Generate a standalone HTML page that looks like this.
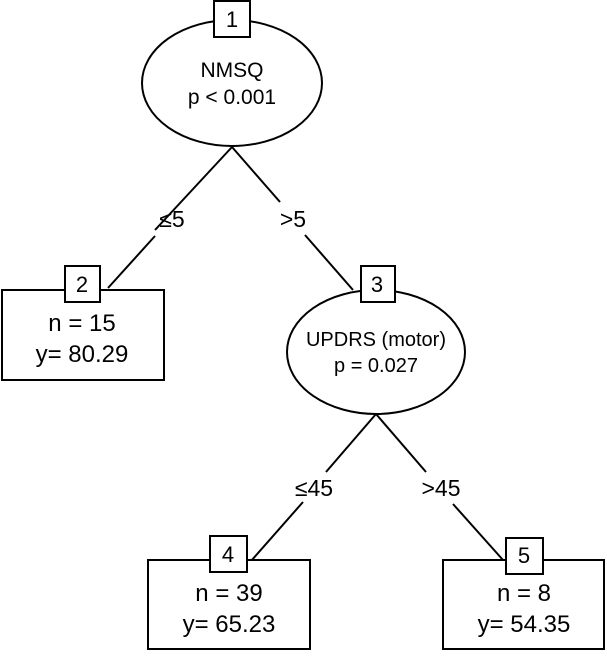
<!DOCTYPE html>
<html><head><style>body{margin:0;background:#fff}</style></head><body>
<svg width="607" height="652" viewBox="0 0 607 652" xmlns="http://www.w3.org/2000/svg" font-family="Liberation Sans, sans-serif" fill="none" stroke="#000" stroke-width="2">
<g>
<line x1="232" y1="147" x2="155" y2="230"/>
<line x1="155" y1="236" x2="108" y2="288"/>
<line x1="232" y1="147" x2="280" y2="202"/>
<line x1="305" y1="235" x2="353" y2="290"/>
<line x1="376" y1="414" x2="326" y2="472"/>
<line x1="303" y1="502" x2="251" y2="561"/>
<line x1="376" y1="414" x2="426" y2="472"/>
<line x1="453" y1="504" x2="503" y2="560"/>
<ellipse cx="232" cy="83" rx="90" ry="63" fill="#fff"/>
<ellipse cx="376" cy="352" rx="89" ry="62" fill="#fff"/>
<rect x="2" y="290" width="162" height="90" fill="#fff"/>
<rect x="148" y="560" width="162" height="89" fill="#fff"/>
<rect x="443" y="560" width="161" height="89" fill="#fff"/>
<rect x="214" y="1" width="36" height="36" fill="#fff"/>
<rect x="65" y="266" width="35" height="36" fill="#fff"/>
<rect x="361" y="266" width="34" height="36" fill="#fff"/>
<rect x="210" y="536" width="37" height="36" fill="#fff"/>
<rect x="506" y="538" width="37" height="36" fill="#fff"/>
</g>
<g fill="#000" stroke="none" text-anchor="middle">
<text x="232" y="27" font-size="22">1</text>
<text x="82" y="292" font-size="22">2</text>
<text x="377" y="292" font-size="22">3</text>
<text x="228" y="562" font-size="22">4</text>
<text x="524" y="563" font-size="22">5</text>
<text x="232" y="77" font-size="21">NMSQ</text>
<text x="232" y="104" font-size="21">p &lt; 0.001</text>
<text x="172" y="227" font-size="23">≤5</text>
<text x="293" y="227" font-size="23">&gt;5</text>
<text x="82" y="331" font-size="24">n = 15</text>
<text x="82" y="362" font-size="24">y= 80.29</text>
<text x="376" y="346" font-size="20">UPDRS (motor)</text>
<text x="376" y="372" font-size="20">p = 0.027</text>
<text x="314" y="496" font-size="23">≤45</text>
<text x="441" y="496" font-size="23">&gt;45</text>
<text x="229" y="601" font-size="24">n = 39</text>
<text x="229" y="632" font-size="24">y= 65.23</text>
<text x="524" y="601" font-size="24">n = 8</text>
<text x="524" y="632" font-size="24">y= 54.35</text>
</g>
</svg>
</body></html>
